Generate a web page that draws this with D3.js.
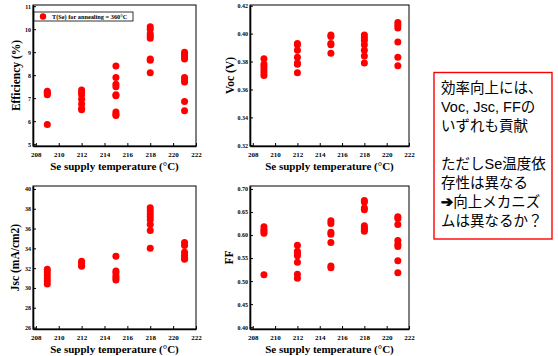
<!DOCTYPE html>
<html>
<head>
<meta charset="utf-8">
<script src="https://cdn.jsdelivr.net/npm/d3@7"></script>
<style>
  body { margin: 0; background: #fff; }
  svg { display: block; }
  .tick text { font-family: "Liberation Serif", serif; font-weight: bold; fill: #000; }
  .ttl { font-family: "Liberation Serif", serif; font-weight: bold; fill: #000; }
</style>
</head>
<body>
<script>
var temps = [209, 212, 215, 218, 221];
var xTicks = [208, 210, 212, 214, 216, 218, 220, 222];

// values per supply temperature (same order as temps)
var effValues = [
  [7.3, 7.25, 7.2, 7.15, 5.85],
  [7.35, 7.25, 7.15, 6.95, 6.75, 6.55, 6.5],
  [8.4, 7.9, 7.6, 7.5, 7.15, 7.1, 6.4, 6.3, 6.25],
  [10.1, 10.0, 9.8, 9.7, 9.6, 8.7, 8.65, 8.1],
  [9.0, 8.9, 8.8, 8.7, 7.9, 7.8, 7.7, 6.85, 6.45]
];
var vocValues = [
  [0.382, 0.378, 0.376, 0.374, 0.372, 0.370],
  [0.393, 0.392, 0.388, 0.383, 0.379, 0.378, 0.372],
  [0.399, 0.398, 0.393, 0.392, 0.386],
  [0.399, 0.397, 0.395, 0.392, 0.388, 0.384, 0.379],
  [0.408, 0.406, 0.404, 0.394, 0.383, 0.377]
];
var jscValues = [
  [31.9, 31.6, 31.3, 31.0, 30.7, 30.4],
  [32.7, 32.5, 32.3, 32.2],
  [33.2, 31.7, 31.5, 31.2, 31.0, 30.8],
  [38.1, 37.8, 37.5, 37.2, 36.9, 36.4, 35.8, 34.0],
  [34.6, 34.3, 33.6, 33.3, 33.0, 32.9]
];
var ffValues = [
  [0.618, 0.612, 0.608, 0.604, 0.514],
  [0.578, 0.565, 0.560, 0.555, 0.541, 0.515, 0.506],
  [0.631, 0.625, 0.606, 0.602, 0.584, 0.533, 0.529],
  [0.675, 0.672, 0.659, 0.655, 0.620, 0.616, 0.612, 0.608],
  [0.640, 0.636, 0.623, 0.588, 0.580, 0.575, 0.544, 0.518]
];

var effTicks = [5, 6, 7, 8, 9, 10, 11];
var vocTicks = [0.32, 0.34, 0.36, 0.38, 0.40, 0.42];
var jscTicks = [26, 28, 30, 32, 34, 36, 38, 40];
var ffTicks = [0.40, 0.45, 0.50, 0.55, 0.60, 0.65, 0.70];

var legendLabel = "T(Se) for annealing = 360°C";
var xTitle = "Se supply temperature (°C)";
var noteLines = ["効率向上には、", "Voc, Jsc, FFの", "いずれも貢献", "",
  "ただしSe温度依", "存性は異なる", "➔向上メカニズ", "ムは異なるか？"];

var svg = d3.select("body").append("svg")
    .attr("width", 558)
    .attr("height", 356);

function panel(opt) {
  var x = d3.scaleLinear().domain([207.75, 222]).range([opt.left, opt.right]);
  var y = d3.scaleLinear().domain(opt.ydom).range([opt.bottom, opt.top]);
  var g = svg.append("g");

  g.append("rect")
    .attr("x", opt.left).attr("y", opt.top)
    .attr("width", opt.right - opt.left).attr("height", opt.bottom - opt.top)
    .attr("fill", "none").attr("stroke", "#000").attr("stroke-width", 1);

  var ax = g.append("g")
    .attr("transform", "translate(0," + opt.bottom + ")")
    .call(d3.axisBottom(x).tickValues(xTicks).tickSize(-3).tickPadding(6).tickSizeOuter(0));
  ax.selectAll("text").style("font-size", "7px");

  var ay = g.append("g")
    .attr("transform", "translate(" + opt.left + ",0)")
    .call(d3.axisLeft(y).tickValues(opt.yticks).tickFormat(d3.format(opt.fmt))
      .tickSize(-3).tickPadding(2).tickSizeOuter(0));
  ay.selectAll("text").style("font-size", "6px");

  g.selectAll(".domain").attr("stroke-width", 1.6);

  var pts = [];
  temps.forEach(function(t, i) {
    opt.values[i].forEach(function(v) { pts.push({t: t, v: v}); });
  });
  g.selectAll("circle.pt").data(pts).enter().append("circle")
    .attr("class", "pt")
    .attr("cx", function(d) { return x(d.t); })
    .attr("cy", function(d) { return y(d.v); })
    .attr("r", 3.5)
    .attr("fill", "#ff0000");

  g.append("text").attr("class", "ttl")
    .attr("x", (opt.left + opt.right) / 2).attr("y", opt.bottom + 24)
    .attr("text-anchor", "middle").style("font-size", "11px")
    .text(xTitle);

  g.append("text").attr("class", "ttl")
    .attr("transform", "translate(" + (opt.left - opt.tOff) + "," + ((opt.top + opt.bottom) / 2) + ") rotate(-90)")
    .attr("text-anchor", "middle").style("font-size", "11.5px")
    .text(opt.ytitle);
  return g;
}

panel({left: 33, right: 196, top: 5, bottom: 146, ydom: [4.92, 11.05], tOff: 13,
  yticks: effTicks, fmt: "d", values: effValues, ytitle: "Efficiency (%)"});
panel({left: 250, right: 409, top: 5, bottom: 146, ydom: [0.3195, 0.4205], tOff: 16,
  yticks: vocTicks, fmt: ".2f", values: vocValues, ytitle: "Voc (V)"});
panel({left: 33, right: 196, top: 186, bottom: 329, ydom: [25.85, 40.3], tOff: 14,
  yticks: jscTicks, fmt: "d", values: jscValues, ytitle: "Jsc (mA/cm2)"});
panel({left: 250, right: 409, top: 186, bottom: 329, ydom: [0.396, 0.7065], tOff: 17,
  yticks: ffTicks, fmt: ".2f", values: ffValues, ytitle: "FF"});

// legend
var lg = svg.append("g");
lg.append("rect").attr("x", 34).attr("y", 12).attr("width", 99).attr("height", 9)
  .attr("fill", "#fff").attr("stroke", "#000").attr("stroke-width", 0.8);
lg.append("circle").attr("cx", 43).attr("cy", 16.5).attr("r", 3.2).attr("fill", "#ff0000");
lg.append("text").attr("class", "ttl").attr("x", 52).attr("y", 18.8)
  .style("font-size", "6.3px").text(legendLabel);

// note box
svg.append("rect").attr("x", 434).attr("y", 72.5).attr("width", 118).attr("height", 166.5)
  .attr("fill", "none").attr("stroke", "#ff0000").attr("stroke-width", 1.4);
var note = svg.append("g").selectAll("text").data(noteLines).enter().append("text")
  .attr("x", 441)
  .attr("y", function(d, i) { return 93 + i * 19; })
  .style("font-family", "'Liberation Sans', 'DejaVu Sans', 'Noto Sans CJK JP', sans-serif")
  .style("font-size", "14.5px")
  .attr("fill", "#000");
// arrow glyph drawn heavier, like the original slide
note.each(function(d) {
  var t = d3.select(this);
  if (d.charAt(0) === "➔") {
    t.append("tspan").style("font-weight", "bold").attr("stroke", "#000")
      .attr("stroke-width", 0.8).text("➔");
    t.append("tspan").text(d.slice(1));
  } else {
    t.text(d);
  }
});
</script>
</body>
</html>
